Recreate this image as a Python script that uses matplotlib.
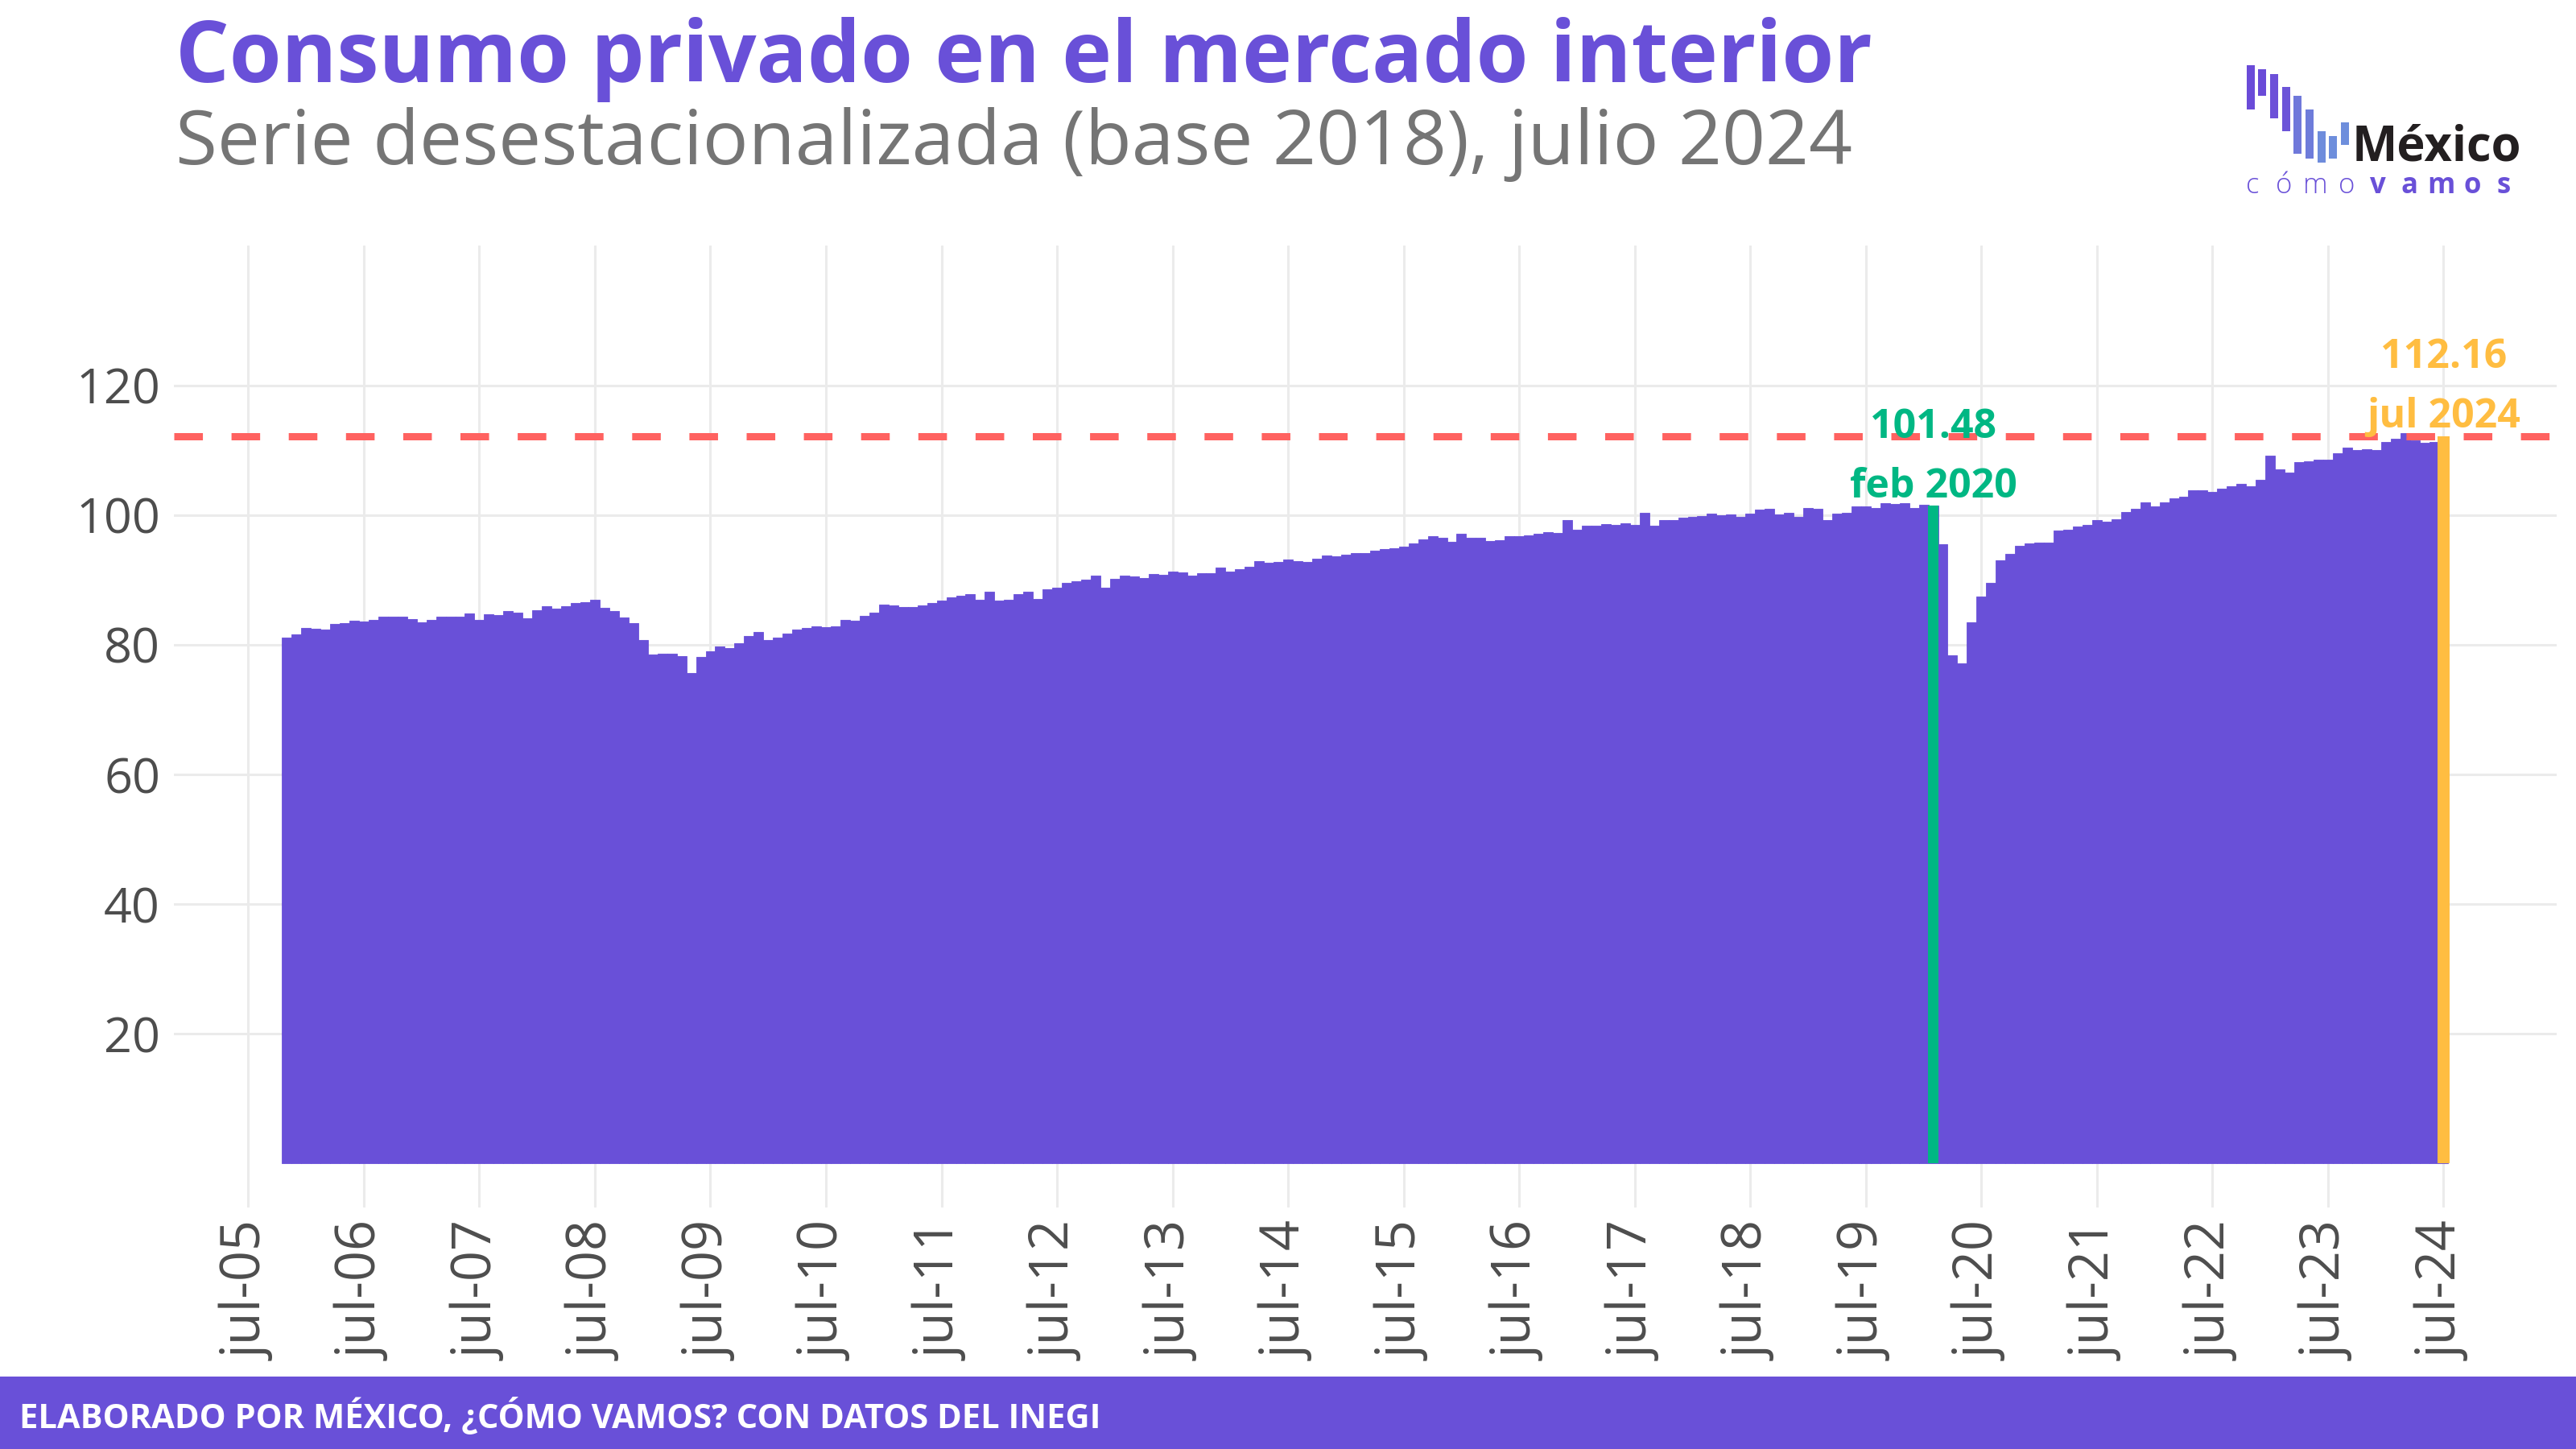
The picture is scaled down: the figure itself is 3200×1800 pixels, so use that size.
"""Consumo privado en el mercado interior: barras mensuales, serie desestacionalizada."""

import matplotlib
matplotlib.use("Agg")
import matplotlib.pyplot as plt
from matplotlib.patches import Rectangle
import numpy as np

plt.rcParams["font.family"] = ["Open Sans", "DejaVu Sans"]

# Datos: índice base 2018, primer mes = nov 2005
inicio = (2005, 11)
consumo = [
    81.1, 81.6,                                                             # 2005 (nov-dic)
    82.6, 82.5, 82.3, 83.2, 83.4, 83.7, 83.6, 83.9, 84.3, 84.3, 84.4, 84.0,  # 2006
    83.5, 83.8, 84.4, 84.3, 84.4, 84.9, 83.8, 84.7, 84.6, 85.2, 85.0, 84.1,  # 2007
    85.3, 86.0, 85.6, 86.0, 86.4, 86.6, 86.9, 85.7, 85.2, 84.2, 83.4, 80.7,  # 2008
    78.5, 78.6, 78.6, 78.2, 75.6, 78.1, 79.0, 79.7, 79.5, 80.3, 81.3, 82.0,  # 2009
    80.8, 81.1, 81.7, 82.3, 82.6, 82.9, 82.7, 82.8, 83.9, 83.7, 84.5, 85.0,  # 2010
    86.2, 86.1, 85.8, 85.8, 86.1, 86.4, 86.8, 87.3, 87.6, 87.8, 87.0, 88.2,  # 2011
    86.8, 87.0, 87.8, 88.2, 87.1, 88.6, 88.8, 89.5, 89.8, 90.0, 90.7, 88.8,  # 2012
    90.2, 90.7, 90.5, 90.3, 90.9, 90.8, 91.3, 91.2, 90.7, 91.1, 91.0, 91.9,  # 2013
    91.3, 91.7, 92.0, 92.9, 92.7, 92.8, 93.1, 92.9, 92.8, 93.3, 93.8, 93.6,  # 2014
    93.9, 94.1, 94.2, 94.5, 94.8, 94.9, 95.1, 95.6, 96.3, 96.7, 96.5, 95.9,  # 2015
    97.1, 96.5, 96.5, 96.0, 96.2, 96.7, 96.8, 96.9, 97.1, 97.4, 97.3, 99.2,  # 2016
    97.8, 98.4, 98.4, 98.6, 98.5, 98.7, 98.5, 100.3, 98.4, 99.2, 99.2, 99.6,  # 2017
    99.8, 99.9, 100.2, 100.0, 100.1, 99.8, 100.2, 100.8, 101.0, 100.1, 100.3, 99.7,  # 2018
    101.1, 101.0, 99.3, 100.2, 100.4, 101.3, 101.4, 101.1, 101.8, 101.7, 101.9, 101.1,  # 2019
    101.6, 101.48, 95.5, 78.4, 77.2, 83.5, 87.4, 89.5, 93.0, 94.0, 95.3, 95.6,  # 2020
    95.8, 95.8, 97.6, 97.8, 98.2, 98.5, 99.2, 99.0, 99.4, 100.5, 101.0, 102.0,  # 2021
    101.4, 102.0, 102.6, 102.8, 103.8, 103.8, 103.6, 104.1, 104.5, 104.8, 104.5, 105.5,  # 2022
    109.2, 107.1, 106.6, 108.2, 108.3, 108.5, 108.5, 109.5, 110.4, 110.0, 110.2, 110.0,  # 2023
    111.3, 111.8, 112.7, 111.6, 111.2, 111.3, 112.16,                       # 2024 (ene-jul)
]
anios_tick = list(range(2005, 2025))
y_ticks = [20, 40, 60, 80, 100, 120]

# Meses destacados
pre_pandemia = (2020, 2, "feb 2020")
ultimo = (2024, 7, "jul 2024")

MORADO = "#6950D8"
VERDE = "#00B783"
AMARILLO = "#FFBD41"
ROJO = "#FF6260"
GRIS = "#4D4D4D"


def mes_idx(anio, mes):
    """Meses transcurridos desde jul 2005."""
    return (anio - 2005) * 12 + (mes - 7)


x = mes_idx(*inicio) + np.arange(len(consumo))
valores = np.array(consumo)

fig = plt.figure(figsize=(16, 9), dpi=200)
ax = fig.add_axes([0.0674, 0.1667, 0.9251, 0.6639])

ax.bar(x, valores, width=1.0, color=MORADO, edgecolor=MORADO, linewidth=0.3, zorder=2)

# Línea de referencia en el último valor
ax.axhline(valores[-1], color=ROJO, linewidth=3.24, linestyle=(0, (3.95, 3.95)), zorder=3)

xp = mes_idx(pre_pandemia[0], pre_pandemia[1])
vp = valores[x == xp][0]
ax.bar([xp], [vp], width=1.15, color=VERDE, zorder=4)
ax.text(xp, vp + 10.4, f"{vp:.2f}", color=VERDE, fontsize=18, fontweight="bold",
        ha="center", va="baseline", zorder=6)
ax.text(xp, vp + 1.3, pre_pandemia[2], color=VERDE, fontsize=18, fontweight="bold",
        ha="center", va="baseline", zorder=6)

xu = mes_idx(ultimo[0], ultimo[1])
vu = valores[x == xu][0]
ax.bar([xu], [vu], width=1.2, color=AMARILLO, zorder=4)
ax.text(xu, vu + 10.5, f"{vu:.2f}", color=AMARILLO, fontsize=18, fontweight="bold",
        ha="center", va="baseline", zorder=6)
ax.text(xu, vu + 1.4, ultimo[2], color=AMARILLO, fontsize=18, fontweight="bold",
        ha="center", va="baseline", zorder=6)

ax.set_xlim(-7.75, 239.75)
ax.set_ylim(-6.8, 141.6)
ax.set_xticks([mes_idx(a, 7) for a in anios_tick])
ax.set_xticklabels([f"jul-{a % 100:02d}" for a in anios_tick], rotation=90,
                   ha="center", va="top")
ax.set_yticks(y_ticks)
ax.tick_params(length=0, labelcolor=GRIS)
ax.tick_params(axis="x", pad=6.5, labelsize=24)
ax.tick_params(axis="y", pad=6, labelsize=22)
ax.grid(True, color="#EBEBEB", linewidth=1.1, zorder=0)
ax.set_axisbelow(True)
for s in ax.spines.values():
    s.set_visible(False)

# Capa de decoración en píxeles: título, logo y pie
ov = fig.add_axes([0, 0, 1, 1], facecolor="none")
ov.set_xlim(0, 3200)
ov.set_ylim(1800, 0)
ov.axis("off")

ov.text(218, 102, "Consumo privado en el mercado interior", color=MORADO,
        fontsize=37.7, fontweight="bold", ha="left", va="baseline")
ov.text(218, 204, "Serie desestacionalizada (base 2018), julio 2024", color="#757575",
        fontsize=34, ha="left", va="baseline")

# Logo México, ¿cómo vamos?
logo_barras = [(2791, 81, 136), (2805, 86, 119), (2820, 92, 147), (2835, 108, 163),
               (2849, 119, 191), (2864, 136, 197), (2879, 163, 202), (2893, 169, 197),
               (2908, 152, 180)]
logo_colores = ["#6A4BD8", "#6A4BD8", "#6C50D8", "#6C55D8", "#6F78DA",
                "#6E7CDA", "#6E8CDC", "#6E8EDC", "#6E8EDC"]
for (lx, y0, y1), c in zip(logo_barras, logo_colores):
    ov.add_patch(Rectangle((lx, y0), 9.5, y1 - y0, color=c, lw=0))
ov.text(2922, 200, "México", color="#231F20", fontsize=21.5, fontweight="bold",
        ha="left", va="baseline")
for k, letra in enumerate("cómovamos"):
    ov.text(2798 + 39 * k, 240, letra, color=MORADO, fontsize=12.5,
            fontweight="bold" if k >= 4 else "light", ha="center", va="baseline")

ov.add_patch(Rectangle((0, 1710), 3200, 90, color=MORADO, lw=0))
ov.text(24, 1760, "ELABORADO POR MÉXICO, ¿CÓMO VAMOS? CON DATOS DEL INEGI", color="white",
        fontsize=15, fontweight="bold", ha="left", va="center")

fig.savefig("out.png", dpi=200, facecolor="white")
plt.close(fig)
